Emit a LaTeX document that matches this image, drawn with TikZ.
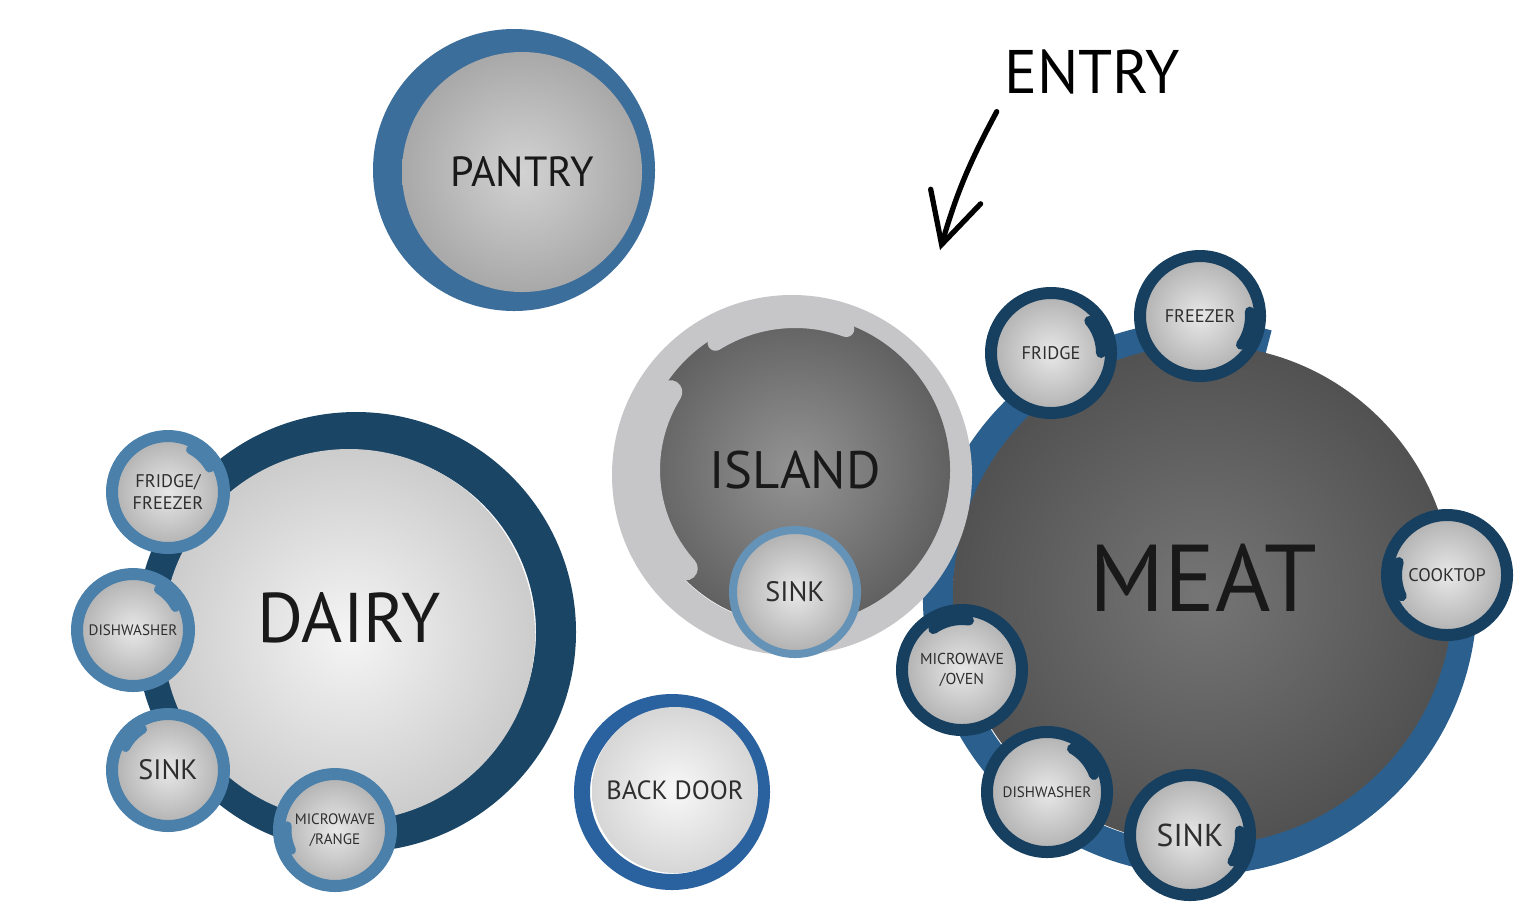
\documentclass[tikz,border=0pt]{standalone}
\usepackage{fontspec}
\setmainfont{PT Sans}
\usetikzlibrary{arrows.meta}

\definecolor{ringblue}{HTML}{3C6E9C}
\definecolor{ringnavy}{HTML}{1B4565}
\definecolor{ringlite}{HTML}{4A80AA}
\definecolor{ringdark}{HTML}{173F5F}
\definecolor{ringmeat}{HTML}{2A5F8E}
\definecolor{ringdoor}{HTML}{2A62A0}
\definecolor{ringgray}{HTML}{C6C6C8}
\definecolor{labeltxt}{HTML}{2E2E2E}

\begin{document}
\begin{tikzpicture}[
  bigroom/.style={circle,inner sep=0pt,shading=radial,text=black!90},
  appliance/.style={circle,inner sep=0pt,minimum size=1.12cm,line width=0.12cm,
    shading=radial,inner color=gray!18,outer color=gray!62,text=labeltxt,
    align=center,font=\fontsize{5.2}{6.4}\selectfont},
  meatapp/.style={appliance,draw=ringdark,minimum size=1.2cm},
  dairyapp/.style={appliance,draw=ringlite},
  curl/.style={ringdark,line width=0.1cm,line cap=round},
  dcurl/.style={ringlite,line width=0.09cm,line cap=round}
]
\fill[white] (0,0) rectangle (15.37,9.05);
\useasboundingbox (0,0) rectangle (15.37,9.05);

% pantry
\draw[ringblue,line width=0.3cm] (5.14,7.35) circle (1.26);
\node[bigroom,minimum size=2.4cm,inner color=gray!35,outer color=gray!68,
  font=\fontsize{12}{12}\selectfont] (pantry) at (5.22,7.33) {PANTRY};

% dairy
\draw[ringnavy,line width=0.4cm] (3.56,2.73) circle (2.0);
\node[bigroom,minimum size=3.72cm,inner color=gray!8,outer color=gray!40,
  font=\fontsize{20}{20}\selectfont] (dairy) at (3.49,2.70) {\raisebox{0.36cm}{DAIRY}};
\node[dairyapp] (dfridge) at (1.68,4.13) {FRIDGE/\\FREEZER};
\node[dairyapp,font=\fontsize{4.3}{5}\selectfont] (ddish) at (1.33,2.75) {DISHWASHER};
\node[dairyapp,font=\fontsize{8}{8}\selectfont] (dsink) at (1.68,1.35) {SINK};
\node[dairyapp,font=\fontsize{4.3}{5.6}\selectfont] (dmicro) at (3.35,0.75) {MICROWAVE\\/RANGE};
\draw[dcurl] (dfridge.center) ++(62:0.48) arc[start angle=62,end angle=30,radius=0.48];
\draw[dcurl] (ddish.center) ++(58:0.48) arc[start angle=58,end angle=28,radius=0.48];
\draw[dcurl] (dsink.center) ++(122:0.48) arc[start angle=122,end angle=152,radius=0.48];
\draw[dcurl] (dmicro.center) ++(175:0.48) arc[start angle=175,end angle=205,radius=0.48];

% meat
\draw[ringmeat,line width=0.3cm] (12.00,3.07) ++(75:2.62) arc[start angle=75,end angle=370,radius=2.62];
\node[bigroom,minimum size=5.0cm,inner color=black!54,outer color=black!68,
  font=\fontsize{27}{27}\selectfont] (meat) at (12.03,3.10) {\raisebox{0.34cm}{MEAT}};

% island
\draw[ringgray,line width=0.3cm] (7.92,4.30) circle (1.65);
\node[bigroom,minimum size=3.1cm,inner color=black!42,outer color=black!62,
  font=\fontsize{15}{15}\selectfont] (island) at (7.95,4.35) {ISLAND};
\draw[ringgray,line width=0.24cm,line cap=round] (island.center) ++(148:1.47) arc[start angle=148,end angle=222,radius=1.47];
\draw[ringgray,line width=0.16cm,line cap=round] (island.center) ++(122:1.5) arc[start angle=122,end angle=70,radius=1.5];
\node[appliance,draw=ringlite!85,minimum size=1.24cm,line width=0.08cm,
  font=\fontsize{8}{8}\selectfont] (isink) at (7.95,3.13) {SINK};

\node[meatapp] (mfridge) at (10.51,5.52) {FRIDGE};
\node[meatapp] (mfreezer) at (12.00,5.89) {FREEZER};
\node[meatapp] (mcook) at (14.47,3.30) {COOKTOP};
\node[meatapp,font=\fontsize{4.5}{5.8}\selectfont] (mmicro) at (9.62,2.35) {MICROWAVE\\/OVEN};
\node[meatapp,font=\fontsize{4.3}{5}\selectfont] (mdish) at (10.47,1.13) {DISHWASHER};
\node[meatapp,font=\fontsize{9}{9}\selectfont] (msink) at (11.90,0.70) {SINK};
\draw[curl] (mfridge.center) ++(40:0.5) arc[start angle=40,end angle=0,radius=0.5];
\draw[curl] (mfreezer.center) ++(5:0.5) arc[start angle=5,end angle=-35,radius=0.5];
\draw[curl] (mcook.center) ++(165:0.5) arc[start angle=165,end angle=205,radius=0.5];
\draw[curl] (mmicro.center) ++(125:0.5) arc[start angle=125,end angle=82,radius=0.5];
\draw[curl] (mdish.center) ++(60:0.5) arc[start angle=60,end angle=20,radius=0.5];
\draw[curl] (msink.center) ++(5:0.5) arc[start angle=5,end angle=-32,radius=0.5];

% back door
\draw[ringdoor,line width=0.16cm] (6.72,1.13) circle (0.90);
\node[bigroom,minimum size=1.66cm,inner color=gray!6,outer color=gray!32,
  text=labeltxt,font=\fontsize{7.5}{7.5}\selectfont] (backdoor) at (6.75,1.15) {BACK DOOR};

% entry
\node[font=\fontsize{17.5}{17.5}\selectfont] (entry) at (10.92,8.33) {ENTRY};
\coordinate (entryend) at (9.40,6.55);
\draw[line width=1.5pt,line cap=round,-{Straight Barb[length=5mm,width=5.2mm,line cap=round]}]
  ([xshift=0.05cm,yshift=-0.05cm]entry.south west) to[bend right=6] (entryend);
\end{tikzpicture}
\end{document}
